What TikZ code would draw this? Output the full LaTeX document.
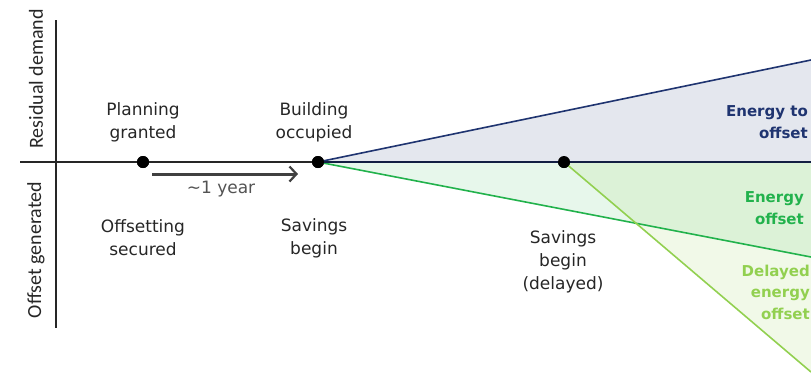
\documentclass[tikz,border=0pt]{standalone}
\usepackage{fontspec}
\setmainfont{DejaVu Sans}
\newfontfamily\axfont{Carlito}
\usetikzlibrary{arrows.meta}
\definecolor{navy}{HTML}{1F3470}
\definecolor{grn}{HTML}{22B24C}
\definecolor{lgrn}{HTML}{92D050}
\definecolor{txt}{HTML}{262626}
\definecolor{arr}{HTML}{404040}
\begin{document}
\begin{tikzpicture}[x=1pt,y=-1pt,
  lbl/.style={font=\fontsize{17}{23}\selectfont, text=txt, align=center, inner sep=0pt},
  axlbl/.style={font=\axfont\fontsize{20}{22}\selectfont, text=txt, rotate=90, inner sep=0pt},
  dot/.style={circle, fill=black, inner sep=0pt, minimum size=12pt},
  big/.style={font=\bfseries\fontsize{15}{21.5}\selectfont, align=right, inner sep=0pt}]
\useasboundingbox (0,0) rectangle (811,381);
% points
\coordinate (O) at (56,162);
\coordinate (L) at (20,162);
\coordinate (R) at (811,162);
\coordinate (T) at (56,20);
\coordinate (B) at (56,328);
\coordinate (BlueEnd) at (811,60);
\coordinate (GrnEnd) at (811,257);
\coordinate (LgEnd) at (811,372);
\node[dot] (p1) at (143,162) {};
\node[dot] (p2) at (318,162) {};
\node[dot] (p3) at (564,162) {};
% fills
\fill[navy!12] (p2.center) -- (BlueEnd) -- (R) -- cycle;
\fill[grn, fill opacity=0.11] (p2.center) -- (GrnEnd) -- (R) -- cycle;
\fill[lgrn, fill opacity=0.13] (p3.center) -- (LgEnd) -- (R) -- cycle;
% lines
\draw[navy, line width=1.6pt] (p2.center) -- (BlueEnd);
\draw[grn, line width=1.6pt] (p2.center) -- (GrnEnd);
\draw[lgrn, line width=1.6pt] (p3.center) -- (LgEnd);
\draw[navy!60!black, line width=1.6pt] (p2.center) -- (R);
\draw[black!85, line width=1.3pt] (L) -- (p2.center);
\draw[black!85, line width=1.3pt] (T) -- (B);
% redraw dots on top
\node[dot] at (p1) {};
\node[dot] at (p2) {};
\node[dot] at (p3) {};
% arrow
\coordinate (a1) at (152,174);
\coordinate (a2) at (298,174);
\draw[arr, line width=3pt, -{Straight Barb[length=7pt,width=15pt,line width=2.2pt]}] (a1) -- (a2);
\node[lbl, text=arr!90] (yr) at (221,189) {\textasciitilde 1 year};
% labels
\node[lbl] (pg) at (143,122) {Planning\\granted};
\node[lbl] (bo) at (314,122) {Building\\occupied};
\node[lbl] (os) at (143,238) {Offsetting\\secured};
\node[lbl] (sb) at (314,238) {Savings\\begin};
\node[lbl] (sd) at (563,262) {Savings\\begin\\(delayed)};
\node[axlbl] (rd) at (36,79) {Residual demand};
\node[axlbl] (og) at (36,250) {Offset generated};
\node[big, text=navy, anchor=east] (eto) at (808,122) {Energy to\\offset};
\node[big, text=grn, anchor=east] (eo) at (804,208) {Energy\\offset};
\node[big, text=lgrn, anchor=east] (deo) at (810,292) {Delayed\\energy\\offset};
\end{tikzpicture}
\end{document}
